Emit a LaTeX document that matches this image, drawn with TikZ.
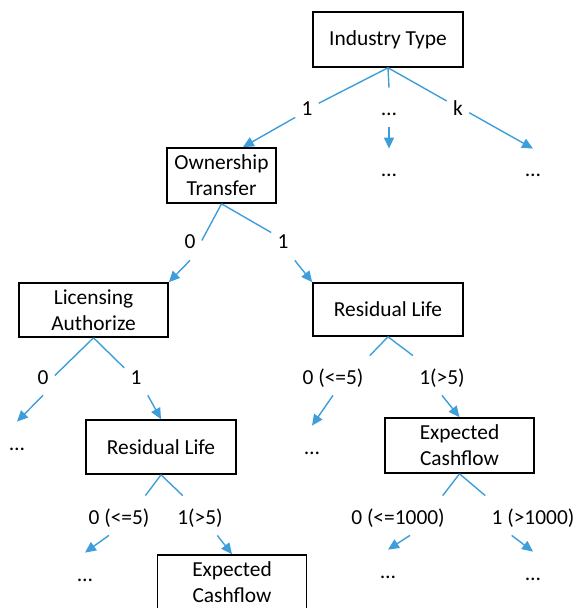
\documentclass[tikz,border=0pt]{standalone}
\usepackage{fontspec}
\setmainfont{Carlito}
\usetikzlibrary{arrows.meta}
\definecolor{branchblue}{RGB}{62,158,218}
\begin{document}
\begin{tikzpicture}[x=0.5pt,y=-0.5pt,
  every node/.style={font=\fontsize{10.7}{13}\selectfont},
  main node/.style={draw,line width=0.8pt,align=center,minimum width=75pt,minimum height=27.5pt,inner sep=0pt},
  label node/.style={inner sep=3pt,text height=11pt,text depth=2.5pt,anchor=base},
  leaf node/.style={inner sep=3pt,text height=11pt,text depth=0pt,anchor=base},
  branch/.style={branchblue,line width=0.7pt}]
  \useasboundingbox (0,0) rectangle (581,608);

  \node[main node] (it) at (388,39.5) {Industry Type};
  \node[main node,minimum width=54.5pt] (ot) at (221.5,175.5) {Ownership\\Transfer};
  \node[main node,minimum width=74.5pt,minimum height=27pt] (la) at (93.5,310) {Licensing\\Authorize};
  \node[main node,minimum height=26.5pt] (rr) at (388,309.5) {Residual Life};
  \node[main node,minimum height=27pt] (rl) at (161,447) {Residual Life};
  \node[main node,minimum width=74.5pt] (er) at (459.5,445.5) {Expected\\Cashflow};
  \node[main node,minimum width=74.5pt] (el) at (232,582.5) {Expected\\Cashflow};

  \node[label node] (a1) at (307,116) {1};
  \node[label node] (ad) at (389,116) {…};
  \node[label node] (ak) at (458,116) {k};
  \node[leaf node] (ld1) at (389,177) {…};
  \node[leaf node] (ld2) at (533,177) {…};
  \node[label node] (b0) at (190,249) {0};
  \node[label node] (b1) at (283,249) {1};
  \node[label node] (c0) at (43,384) {0};
  \node[label node] (c1) at (136,384) {1};
  \node[leaf node] (ld3) at (17,450) {…};
  \node[label node] (d0) at (333,384) {0 (<=5)};
  \node[label node] (d1) at (442,384) {1(>5)};
  \node[leaf node] (ld4) at (312,454) {…};
  \node[label node] (e0) at (119,524) {0 (<=5)};
  \node[label node] (e1) at (200,524) {1(>5)};
  \node[leaf node] (ld5) at (85,581) {…};
  \node[label node] (f0) at (398,524) {0 (<=1000)};
  \node[label node] (f1) at (533,524) {1 (>1000)};
  \node[leaf node] (ld6) at (388,578) {…};
  \node[leaf node] (ld7) at (533,580) {…};

  \path[branch]
    (it.south) edge (a1.20)
    (it.south) edge (ad.north)
    (it.south) edge (ak.150)
    (ot.south) edge (b0.east)
    (ot.south) edge (b1.146)
    (la.south) edge (c0.east)
    (la.south) edge (c1.147)
    (rr.south) edge (d0.north east)
    (rr.south) edge (d1.north west)
    (rl.south) edge (e0.37)
    (rl.south) edge (e1.131)
    (er.south) edge (f0.24)
    (er.south) edge (f1.north west);

  \path[branch,-{Triangle[length=5.5pt,width=5pt]}]
    (a1.220) edge (ot.53)
    (ad.south) edge (ld1.north)
    (ak.-25) edge (ld2.north)
    (b0.south) edge (la.north east)
    (b1.south east) edge (rr.north west)
    (c0.south) edge (ld3.north)
    (c1.south east) edge (rl.north)
    (d0.south) edge (ld4.north)
    (d1.south) edge (er.north)
    (e0.243) edge (ld5.north)
    (e1.-49) edge (el.north)
    (f0.-59) edge (ld6.north)
    (f1.223) edge (ld7.north);
\end{tikzpicture}
\end{document}
